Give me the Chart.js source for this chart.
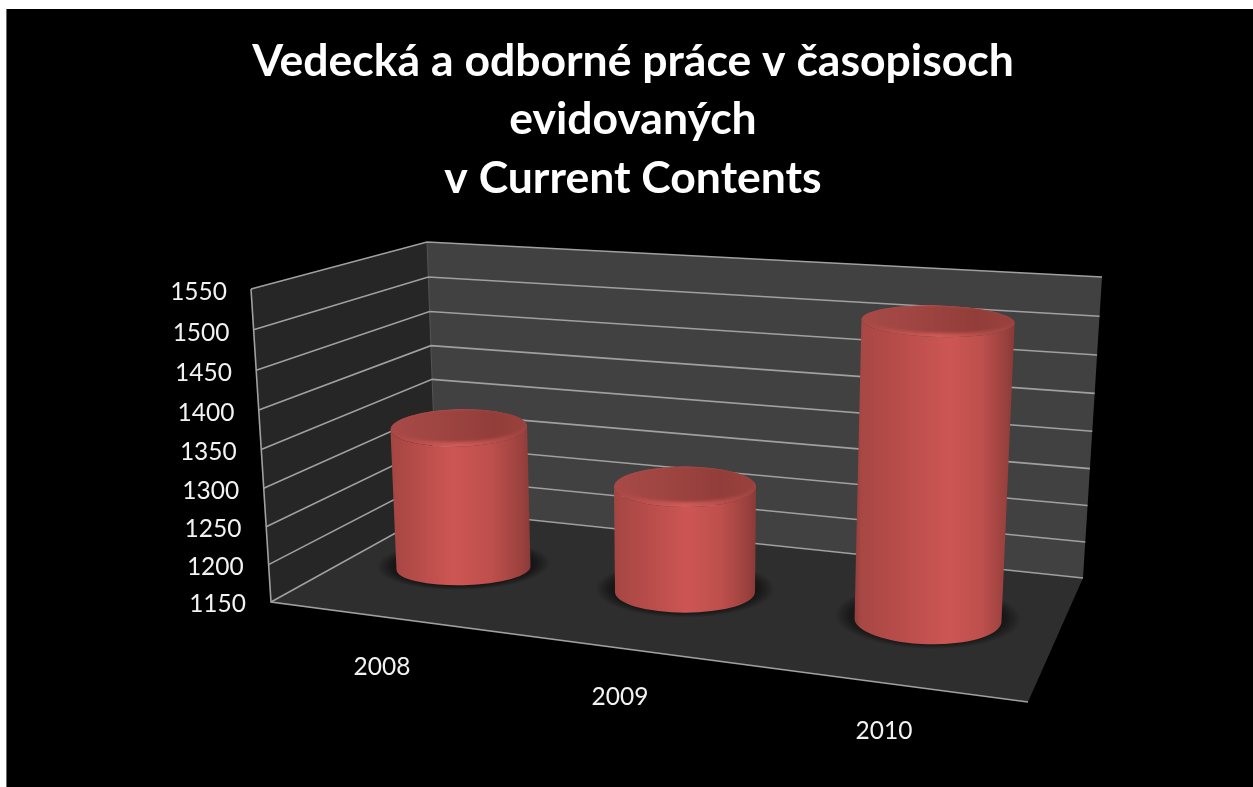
<!DOCTYPE html>
<html>
<head>
<meta charset="utf-8">
<script src="https://cdn.jsdelivr.net/npm/chart.js@4"></script>
<style>
html,body{margin:0;padding:0;background:#fff;overflow:hidden}
canvas{position:absolute;left:0;top:0}
</style>
</head>
<body>
<canvas id="c" width="1253" height="787"></canvas>
<script>
const titleLines = ['Vedecká a odborné práce v časopisoch', 'evidovaných', 'v Current Contents'];
const categories = ['2008', '2009', '2010'];
const articleCounts = [1338, 1287, 1528];
const axisMin = 1150;
const axisMax = 1550;
const axisStep = 50;

// Perspective room the flat scales are projected onto
const room = {
  frontLeft: [271, 602], frontLeftTop: [251, 289],
  backLeft: [437, 510], backLeftTop: [427, 242],
  backRight: [1083, 578], backRightTop: [1102, 277],
  frontRight: [1028, 702]
};
const warp = t => t - 0.05 * t * (1 - t);
const mix = (p, q, t) => [p[0] + (q[0] - p[0]) * t, p[1] + (q[1] - p[1]) * t];
const depthPos = (chart, px) => {
  const a = chart.chartArea;
  return (px - (a.left + a.right) / 2) / (a.width / 3);
};

function poly(ctx, pts, fill) {
  ctx.beginPath();
  pts.forEach((p, i) => i ? ctx.lineTo(p[0], p[1]) : ctx.moveTo(p[0], p[1]));
  ctx.closePath();
  ctx.fillStyle = fill;
  ctx.fill();
}
function stroke(ctx, pts) {
  ctx.beginPath();
  pts.forEach((p, i) => i ? ctx.lineTo(p[0], p[1]) : ctx.moveTo(p[0], p[1]));
  ctx.stroke();
}

function drawCylinder(ctx, el, chart) {
  const s = depthPos(chart, el.x);
  const bx = 685 + 232.25 * s + 10.75 * s * s;
  const by = 592 + 26 * s + 2 * s * s;
  const h = (chart.scales.y.getPixelForValue(axisMin) - el.y) * (0.981 + 0.029 * s);
  const tx = bx + h * 0.0336 * s;
  const ty = by - h;
  const a = el.width / 2 * (0.995 + 0.046 * s + 0.004 * s * s);
  const ta = a * (1 + 0.00014 * h);
  const b = 20.7 + 3.5 * s;
  const tb = 15 + 0.027 * (ty - 322) + 0.8;
  const rot = 0.025 * s;

  // contact shadow on the floor
  ctx.save();
  ctx.translate(bx, by - 3);
  ctx.rotate(rot);
  ctx.scale(a + 20, b + 8);
  const sh = ctx.createRadialGradient(0, 0, 0.6, 0, 0, 1);
  sh.addColorStop(0, 'rgba(0,0,0,0.8)');
  sh.addColorStop(0.6, 'rgba(0,0,0,0.45)');
  sh.addColorStop(1, 'rgba(0,0,0,0)');
  ctx.fillStyle = sh;
  ctx.beginPath();
  ctx.arc(0, 0, 1, 0, Math.PI * 2);
  ctx.fill();
  ctx.restore();

  // body
  const left = Math.min(tx - ta, bx - a), right = Math.max(tx + ta, bx + a);
  const peak = 0.52 + 0.075 * s;
  const edge = s > 0 ? '#8f3e3b' : '#a34542';
  const g = ctx.createLinearGradient(left, 0, right, 0);
  g.addColorStop(0, edge);
  g.addColorStop(0.04, '#a84744');
  g.addColorStop(peak * 0.55, '#bb4e4b');
  g.addColorStop(peak, '#cd5654');
  g.addColorStop(peak + (1 - peak) * 0.5, '#bd4f4c');
  g.addColorStop(0.94, '#9a413e');
  g.addColorStop(1, '#8a3a37');
  ctx.beginPath();
  ctx.ellipse(tx, ty, ta, tb, rot, 0, Math.PI, false);
  ctx.ellipse(bx, by, a, b, rot, Math.PI, 0, true);
  ctx.closePath();
  ctx.fillStyle = g;
  ctx.fill();

  // cap: bevel rim, then soft recessed face
  const rim = ctx.createLinearGradient(tx - ta, 0, tx + ta, 0);
  rim.addColorStop(0, '#a94845');
  rim.addColorStop(0.5, '#d25b58');
  rim.addColorStop(1, '#a04340');
  ctx.beginPath();
  ctx.ellipse(tx, ty, ta, tb, rot, 0, Math.PI * 2);
  ctx.fillStyle = rim;
  ctx.fill();
  const face = ctx.createLinearGradient(tx - ta, 0, tx + ta, 0);
  face.addColorStop(0, '#a84a47');
  face.addColorStop(0.45, '#9c4340');
  face.addColorStop(0.75, '#923d39');
  face.addColorStop(1, '#9a413d');
  ctx.save();
  ctx.beginPath();
  ctx.ellipse(tx, ty, ta, tb, rot, 0, Math.PI * 2);
  ctx.clip();
  ctx.filter = 'blur(1.5px)';
  ctx.beginPath();
  ctx.ellipse(tx, ty - tb * 0.14, ta * 0.985, tb * 0.9, rot, 0, Math.PI * 2);
  ctx.fillStyle = face;
  ctx.fill();
  ctx.restore();
}

const room3d = {
  id: 'room3d',
  beforeDraw(chart) {
    const ctx = chart.ctx;
    ctx.save();
    ctx.fillStyle = '#000';
    ctx.fillRect(6, 9, chart.width - 6, chart.height - 9);
    ctx.fillStyle = '#6a6a6a';
    ctx.fillRect(6, 9, 1, chart.height - 9);
    ctx.restore();

    // slide the library's tick labels along the slanted axes
    const y = chart.scales.y, x = chart.scales.x;
    const yItems = y.getLabelItems();
    if (!yItems._placed) {
      yItems.forEach((it, i) => {
        const t = warp((y.ticks[i].value - axisMin) / (axisMax - axisMin));
        it.options.translation = [246 - 19 * t, 604 - 312 * t];
      });
      yItems._placed = true;
    }
    const xItems = x.getLabelItems();
    if (!xItems._placed) {
      xItems.forEach((it, i) => {
        const s = depthPos(chart, x.getPixelForTick(i));
        it.options.translation = [620 + 251 * s + 13 * s * s, 695 + 32 * s + 2 * s * s - 13];
      });
      xItems._placed = true;
    }
  },
  beforeDatasetsDraw(chart) {
    const ctx = chart.ctx, y = chart.scales.y, r = room;
    ctx.save();
    poly(ctx, [r.frontLeftTop, r.backLeftTop, r.backLeft, r.frontLeft], '#262626');
    poly(ctx, [r.backLeftTop, r.backRightTop, r.backRight, r.backLeft], '#414141');
    poly(ctx, [r.frontLeft, r.backLeft, r.backRight, r.frontRight], '#2e2e2e');
    ctx.strokeStyle = '#555555';
    ctx.lineWidth = 1;
    stroke(ctx, [r.backLeftTop, r.backLeft]);
    ctx.lineWidth = 1.6;
    ctx.strokeStyle = '#a0a0a0';
    ctx.lineCap = 'butt';
    y.ticks.forEach(tick => {
      const t = warp((tick.value - axisMin) / (axisMax - axisMin));
      stroke(ctx, [
        mix(r.frontLeft, r.frontLeftTop, t),
        mix(r.backLeft, r.backLeftTop, t),
        mix(r.backRight, r.backRightTop, t)
      ]);
    });
    stroke(ctx, [r.frontLeftTop, r.frontLeft, r.frontRight]);
    ctx.restore();

    chart.getDatasetMeta(0).data.forEach(el => {
      el.draw = function (c) { drawCylinder(c, this, chart); };
    });
  }
};

new Chart(document.getElementById('c'), {
  type: 'bar',
  data: {
    labels: categories,
    datasets: [{
      label: 'Vedecká a odborné práce',
      data: articleCounts,
      backgroundColor: '#c0504d',
      borderWidth: 0,
      clip: false,
      categoryPercentage: 1,
      barPercentage: 0.5
    }]
  },
  plugins: [room3d],
  options: {
    responsive: false,
    animation: false,
    layout: { padding: { left: 172, right: 159, top: 0, bottom: 0 } },
    plugins: {
      legend: { display: false },
      tooltip: { enabled: false },
      title: {
        display: true,
        text: titleLines,
        color: '#ffffff',
        font: { family: 'Lato', size: 44.5, weight: 'bold', lineHeight: '58.5px' },
        padding: { top: 32, bottom: 81.5 }
      }
    },
    scales: {
      x: {
        afterFit(scale) { scale.height = 185; },
        grid: { display: false },
        border: { display: false },
        ticks: { color: '#f2f2f2', font: { family: 'Lato', size: 24.5 }, maxRotation: 0, autoSkip: false }
      },
      y: {
        min: axisMin,
        max: axisMax,
        afterFit(scale) { scale.width = 78; },
        grid: { display: false },
        border: { display: false },
        ticks: {
          stepSize: axisStep,
          color: '#f2f2f2',
          font: { family: 'Lato', size: 24.5 },
          padding: 0,
          callback: value => String(value)
        }
      }
    }
  }
});
</script>
</body>
</html>
